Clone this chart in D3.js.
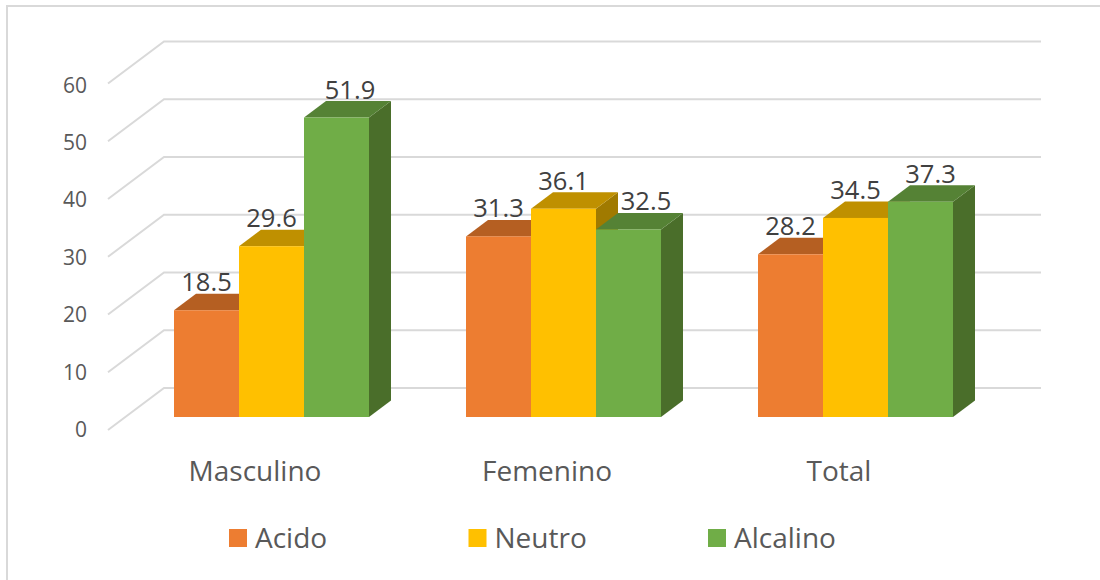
<!DOCTYPE html>
<html>
<head>
<meta charset="utf-8">
<script src="https://cdn.jsdelivr.net/npm/d3@7"></script>
<style>
  html, body { margin: 0; padding: 0; background: #fff; }
  svg { display: block; }
  text { font-family: "Open Sans", "Noto Sans", sans-serif; }
</style>
</head>
<body>
<svg id="chart" width="1100" height="580"></svg>
<script>
const categories = ["Masculino", "Femenino", "Total"];
const seriesNames = ["Acido", "Neutro", "Alcalino"];
const acido = [18.5, 31.3, 28.2];
const neutro = [29.6, 36.1, 34.5];
const alcalino = [51.9, 32.5, 37.3];
const yTicks = [0, 10, 20, 30, 40, 50, 60];

const seriesValues = [acido, neutro, alcalino];
const faceColors = ["#ED7D31", "#FFC000", "#70AD47"];
const topColors = ["#B55F22", "#BF9000", "#558235"];
const sideColors = ["#9A4F1C", "#A07A00", "#4A6E2A"];

// Sideways shift of the value labels, per category and series.
const labelNudge = [[0, 0, 13.5], [0, 0, 17.5], [0, 0, 10]];

const svg = d3.select("#chart");

// Chart frame
svg.append("rect")
  .attr("x", 7).attr("y", 6).attr("width", 1200).attr("height", 700)
  .attr("fill", "#fff").attr("stroke", "#d9d9d9").attr("stroke-width", 2);

// Value scales: front plane of the bars, back wall, near edge of the side wall, tick label baselines.
const yBar = d3.scaleLinear().domain([0, 60]).range([417, 70.8]);
const yBack = d3.scaleLinear().domain([0, 60]).range([388, 41.5]);
const yNear = d3.scaleLinear().domain([0, 60]).range([430, 83.5]);
const yTickText = d3.scaleLinear().domain([0, 60]).range([437, 92.5]);
const wallNearX = 108, wallBackX = 164, wallRightX = 1041;
const depthX = 22, depthY = 16.5;

// Category and series positions
const x0 = d3.scaleBand().domain(categories).range([125.5, 1001.5]).paddingInner(0).paddingOuter(0);
const groupWidth = 195;
const x1 = d3.scaleBand().domain(seriesNames).range([0, groupWidth]);
const groupX = c => x0(c) + (x0.bandwidth() - groupWidth) / 2;

// Gridlines across the side wall and back wall
const gridLine = d3.line();
svg.append("g").selectAll("path").data(yTicks).join("path")
  .attr("d", v => gridLine([[wallNearX, yNear(v)], [wallBackX, yBack(v)], [wallRightX, yBack(v)]]))
  .attr("fill", "none").attr("stroke", "#d9d9d9").attr("stroke-width", 2);

// Tick labels
svg.append("g").selectAll("text").data(yTicks).join("text")
  .attr("x", 87).attr("y", v => yTickText(v))
  .attr("text-anchor", "end").attr("font-size", 21).attr("fill", "#595959")
  .text(d => d);

// Bars, each with a front face, a top and a right side
const poly = pts => pts.map(p => p.join(",")).join(" ");
const bars = [];
categories.forEach((c, ci) => {
  seriesNames.forEach((s, si) => bars.push({ c, ci, s, si, v: seriesValues[si][ci] }));
});
const barG = svg.append("g").selectAll("g").data(bars).join("g");
barG.append("polygon").attr("points", d => {
  const r = groupX(d.c) + x1(d.s) + x1.bandwidth(), t = yBar(d.v), b = yBar(0);
  return poly([[r, t], [r + depthX, t - depthY], [r + depthX, b - depthY], [r, b]]);
}).attr("fill", d => sideColors[d.si]);
barG.append("polygon").attr("points", d => {
  const l = groupX(d.c) + x1(d.s), r = l + x1.bandwidth(), t = yBar(d.v);
  return poly([[l, t], [l + depthX, t - depthY], [r + depthX, t - depthY], [r, t]]);
}).attr("fill", d => topColors[d.si]);
barG.append("rect")
  .attr("x", d => groupX(d.c) + x1(d.s))
  .attr("y", d => yBar(d.v))
  .attr("width", x1.bandwidth())
  .attr("height", d => yBar(0) - yBar(d.v))
  .attr("fill", d => faceColors[d.si]);

// Value labels
svg.append("g").selectAll("text").data(bars).join("text")
  .attr("x", d => groupX(d.c) + x1(d.s) + x1.bandwidth() / 2 + labelNudge[d.ci][d.si])
  .attr("y", d => yBar(d.v) - 19)
  .attr("text-anchor", "middle").attr("font-size", 25.5).attr("fill", "#404040")
  .text(d => d.v.toFixed(1));

// Category labels
svg.append("g").selectAll("text").data(categories).join("text")
  .attr("x", c => groupX(c) + groupWidth / 2 - 16.5)
  .attr("y", 481)
  .attr("text-anchor", "middle").attr("font-size", 28).attr("fill", "#595959")
  .text(d => d);

// Legend
const legendX = d3.scalePoint().domain(seriesNames).range([229, 708]);
const legend = svg.append("g").selectAll("g").data(seriesNames).join("g")
  .attr("transform", s => `translate(${legendX(s)},529)`);
legend.append("rect").attr("width", 18).attr("height", 18)
  .attr("fill", (s, i) => faceColors[i]);
legend.append("text").attr("x", 26).attr("y", 19)
  .attr("font-size", 28).attr("fill", "#595959").text(d => d);
</script>
</body>
</html>
